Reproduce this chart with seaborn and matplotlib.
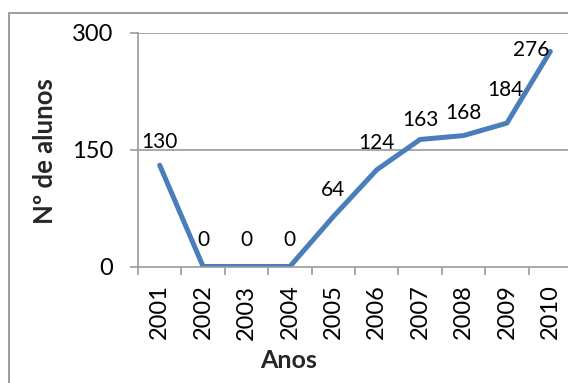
import matplotlib
matplotlib.use("Agg")
import matplotlib.pyplot as plt
from matplotlib.patches import Rectangle
from matplotlib.ticker import FixedLocator
import seaborn as sns
import pandas as pd

years = ["2001", "2002", "2003", "2004", "2005", "2006", "2007", "2008", "2009", "2010"]
students = [130, 0, 0, 0, 64, 124, 163, 168, 184, 276]
y_ticks = [0, 150, 300]

sns.set_theme(style="white")
plt.rcParams["font.family"] = ["Lato", "DejaVu Sans"]

df = pd.DataFrame({"Anos": years, "alunos": students})

W, H = 568, 383
fig = plt.figure(figsize=(W / 100, H / 100), dpi=100)
fig.patch.set_facecolor("white")

# plot area in pixel terms (right side runs past the canvas edge)
left_px, right_px, top_px, bottom_px = 138, 572, 32.7, 266.5
ax = fig.add_axes([left_px / W, 1 - bottom_px / H,
                   (right_px - left_px) / W, (bottom_px - top_px) / H])

line_color = "#4A7EBB"
sns.lineplot(data=df, x="Anos", y="alunos", ax=ax, color=line_color,
             linewidth=3.6, sort=False, solid_capstyle="round")

ax.set_xlim(-0.5, len(years) - 0.5)
ax.set_ylim(0, 300)
ax.set_yticks(y_ticks)
ax.set_yticklabels([str(v) for v in y_ticks], fontsize=17)
ax.set_xticks(range(len(years)))
ax.set_xticklabels(years, rotation=90, fontsize=17)
ax.xaxis.set_minor_locator(FixedLocator([i - 0.5 for i in range(len(years) + 1)]))

grid_gray = "#9a9a9a"
for v in y_ticks[1:]:
    ax.axhline(v, color=grid_gray, linewidth=1.2, zorder=0)

for s in ["top", "right"]:
    ax.spines[s].set_visible(False)
for s in ["left", "bottom"]:
    ax.spines[s].set_color(grid_gray)
    ax.spines[s].set_linewidth(1.2)

ax.tick_params(axis="y", which="major", direction="out", length=6, width=1.2,
               color=grid_gray, pad=12, left=True, labelcolor="black")
ax.tick_params(axis="x", which="major", length=0, pad=13, labelcolor="black")
ax.tick_params(axis="x", which="minor", direction="out", length=6, width=1.2,
               color=grid_gray, bottom=True)
ax.set_xlabel("")
ax.set_ylabel("")

# value labels above each point (last one sits to the left of its point)
label_offsets = {"2001": (0, 17), "2007": (0, 14), "2008": (0, 16),
                 "2009": (-1, 24), "2010": (-1, 1)}
for yr, val in zip(years, students):
    dx, dy = label_offsets.get(yr, (0, 19))
    ha = "right" if yr == "2010" else "center"
    ax.annotate(str(val), xy=(years.index(yr), val), xytext=(dx, dy),
                textcoords="offset points", ha=ha, va="center",
                fontsize=15, color="black", annotation_clip=False)

fig.text(45 / W, 1 - 151 / H, "Nº de alunos", rotation=90, ha="center",
         va="center", fontsize=18.5, fontweight="bold")
fig.text(289 / W, 1 - 360 / H, "Anos", ha="center", va="center",
         fontsize=18, fontweight="bold")

# chart frame
fig.patches.append(Rectangle((9 / W, -0.05), 1.2, 1 - 13 / H + 0.05,
                             transform=fig.transFigure, fill=False,
                             edgecolor="#8c8c8c", linewidth=1.2))

fig.savefig("out.png", dpi=100)
